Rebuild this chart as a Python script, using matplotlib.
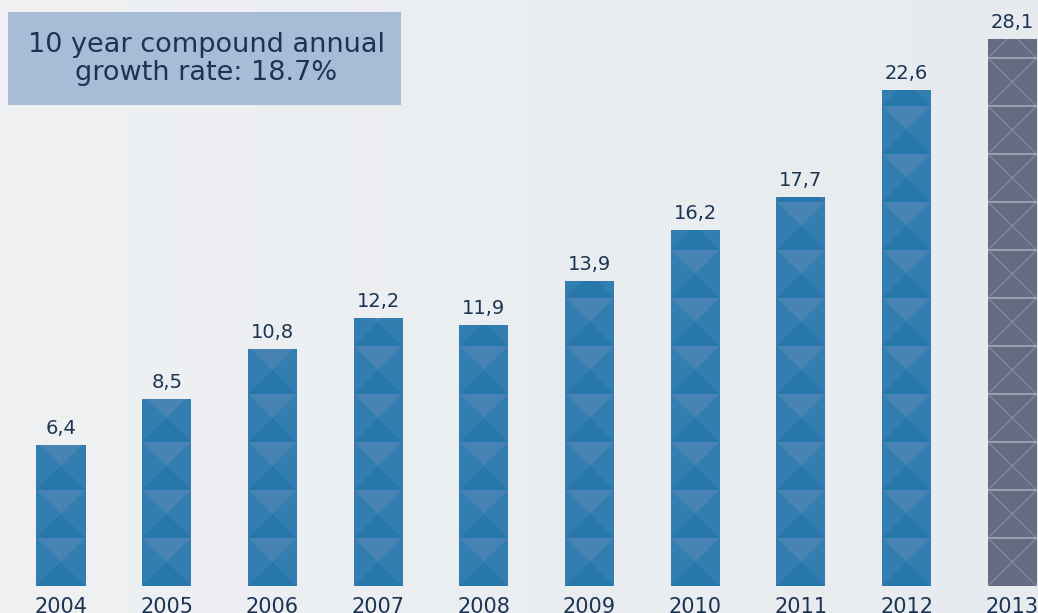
import numpy as np
import matplotlib
matplotlib.use("Agg")
import matplotlib.pyplot as plt
from matplotlib.patches import Rectangle, Polygon

# chart data
years = ["2004", "2005", "2006", "2007", "2008", "2009", "2010", "2011", "2012", "2013"]
values = [6.4, 8.5, 10.8, 12.2, 11.9, 13.9, 16.2, 17.7, 22.6, 28.1]
labels = ["6,4", "8,5", "10,8", "12,2", "11,9", "13,9", "16,2", "17,7", "22,6", "28,1"]
note = "10 year compound annual\ngrowth rate: 18.7%"

text_col = "#1c3452"
blue = "#2e7bb0"
grey = "#656c82"
font = ["DejaVu Sans"]

fig = plt.figure(figsize=(10.38, 6.13), dpi=100)

# background gradient
bg = fig.add_axes([0, 0, 1, 1])
grad = np.linspace(0, 1, 256)
c1 = np.array([0.937, 0.945, 0.953])
c2 = np.array([0.906, 0.922, 0.937])
img = c1[None, :] * (1 - grad[:, None]) + c2[None, :] * grad[:, None]
bg.imshow(img[None, :, :], aspect="auto", extent=[0, 1, 0, 1])
bg.set_axis_off()

# main axes: baseline at y=586px, top at y=39px
ax = fig.add_axes([0, 27 / 613, 1, 547 / 613])
ax.set_facecolor("none")
spacing = 105.7
ax.set_xlim(-61 / spacing, (1038 - 61) / spacing)
ymax = 24.9
ax.set_ylim(0, ymax)
for s in ax.spines.values():
    s.set_visible(False)
ax.set_yticks([])
x = np.arange(len(years))
ax.set_xticks(x)
ax.set_xticklabels(years, fontsize=15, color=text_col, family=font)
ax.tick_params(axis="x", length=0, pad=8)

w = 0.465
tile = 48 / (547 / ymax)  # pattern tile height in data units

for i, v in enumerate(values):
    last = i == len(values) - 1
    col = grey if last else blue
    ax.bar(x[i], v, width=w, color=col, zorder=2)
    left, right = x[i] - w / 2, x[i] + w / 2
    clip = Rectangle((left, 0), w, min(v, ymax), transform=ax.transData)
    n = int(np.ceil(v / tile))
    for k in range(n):
        y0, y1 = k * tile, (k + 1) * tile
        ym = (y0 + y1) / 2
        if last:
            for seg in ([(left, y1), (right, y0)], [(left, y0), (right, y1)]):
                ln, = ax.plot(*zip(*seg), color="#8c93a6", lw=0.7, zorder=3)
                ln.set_clip_path(clip)
            ln, = ax.plot([left, right], [y1, y1], color="#a3a9b8", lw=1.2, zorder=3)
            ln.set_clip_path(clip)
        else:
            tris = [
                ([(left, y1), (right, y1), (x[i], ym)], "#4883b4"),
                ([(left, y0), (right, y0), (x[i], ym)], "#2777ad"),
                ([(left, y0), (left, y1), (x[i], ym)], "#337eb1"),
                ([(right, y0), (right, y1), (x[i], ym)], "#337eb1"),
            ]
            for pts, c in tris:
                p = Polygon(pts, closed=True, facecolor=c, edgecolor="none", zorder=3)
                ax.add_patch(p)
                p.set_clip_path(clip)
    ax.annotate(labels[i], (x[i], min(v, ymax)), xytext=(0, 5), textcoords="offset points",
                ha="center", va="bottom", fontsize=14, color=text_col, family=font,
                annotation_clip=False)

# note box
fig.patches.append(Rectangle((8 / 1038, 1 - 105 / 613), 393 / 1038, 93 / 613,
                             transform=fig.transFigure, facecolor="#a8bcd8",
                             edgecolor="none", zorder=5))
fig.text(206 / 1038, 1 - 59 / 613, note, ha="center", va="center", fontsize=19.5,
         color=text_col, family=font, linespacing=1.05, zorder=6)

fig.savefig("out.png", dpi=100)
